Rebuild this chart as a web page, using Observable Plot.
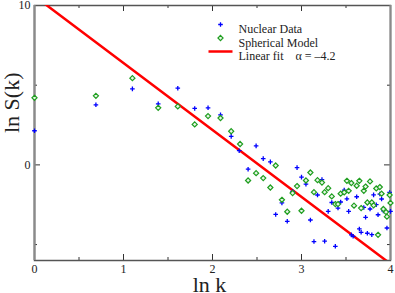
<!DOCTYPE html>
<html>
<head>
<meta charset="utf-8">
<script src="https://cdn.jsdelivr.net/npm/d3@7"></script>
<script src="https://cdn.jsdelivr.net/npm/@observablehq/plot@0.6"></script>
<style>
  html, body { margin: 0; padding: 0; background: #fff; }
</style>
</head>
<body>
<div id="chart"></div>
<script>
// ---- data ----
const nuclearX = [0.00, 0.69, 1.10, 1.39, 1.61, 1.80, 1.95, 2.09, 2.21, 2.30, 2.40, 2.49, 2.57, 2.65, 2.71, 2.78, 2.84, 2.90, 2.95, 3.00, 3.05, 3.10, 3.14, 3.18, 3.23, 3.26, 3.30, 3.34, 3.38, 3.41, 3.44, 3.48, 3.51, 3.53, 3.56, 3.58, 3.62, 3.65, 3.67, 3.70, 3.72, 3.74, 3.77, 3.79, 3.81, 3.84, 3.86, 3.88, 3.90, 3.92, 3.96, 3.99, 4.00];
const nuclearY = [2.14, 3.77, 4.77, 3.83, 4.81, 3.54, 3.58, 3.14, 1.79, 0.89, -0.27, 1.19, 0.39, 0.19, -3.11, -2.39, -3.54, -1.67, -0.17, -0.77, -1.21, -3.46, -4.81, -1.89, -0.92, -4.79, -2.92, -2.36, -5.11, -2.71, -2.33, -1.58, -2.13, -2.92, -4.39, -4.48, -2.00, -4.02, -4.23, -2.67, -3.29, -4.29, -2.77, -4.38, -1.88, -2.50, -3.13, -1.83, -2.14, -2.89, -3.96, -1.73, -2.92];

const sphericalX = [0.00, 0.69, 1.10, 1.39, 1.61, 1.80, 1.95, 2.09, 2.21, 2.31, 2.40, 2.49, 2.57, 2.65, 2.71, 2.78, 2.84, 2.90, 2.95, 3.00, 3.05, 3.10, 3.14, 3.18, 3.23, 3.26, 3.30, 3.34, 3.38, 3.41, 3.44, 3.48, 3.51, 3.53, 3.56, 3.59, 3.62, 3.65, 3.67, 3.70, 3.72, 3.74, 3.77, 3.79, 3.81, 3.84, 3.86, 3.88, 3.90, 3.92, 3.95, 3.96, 3.99, 4.00];
const sphericalY = [4.21, 4.33, 5.44, 3.58, 3.67, 2.54, 3.06, 2.94, 2.11, 1.31, -0.98, -0.52, -0.83, -1.42, -0.04, -2.19, -2.94, -1.77, -1.33, -2.88, -0.98, -0.48, -1.71, -0.96, -1.11, -1.71, -1.46, -1.98, -2.46, -2.46, -1.81, -1.73, -1.00, -1.63, -1.14, -2.56, -1.31, -1.00, -2.71, -1.63, -1.36, -2.36, -1.04, -2.36, -2.54, -1.48, -4.39, -1.39, -1.81, -2.77, -2.96, -3.25, -1.89, -2.39];

// linear fit, alpha = -4.2 (end points)
const fitX = [0, 4];
const fitY = [10.59, -6.21];

const xMajorTicks = [0, 1, 2, 3, 4];
const xMinorTicks = [0.5, 1.5, 2.5, 3.5];
const yLabelTicks = [0, 10];
const yMajorTicks = [0];
const yMinorTicks = [-5, 5];

const legendLabels = ["Nuclear Data", "Spherical Model", "Linear fit\u2003\u03b1 = \u20134.2"];

// ---- tables ----
const nuclear = nuclearX.map((x, i) => ({x, y: nuclearY[i]}));
const spherical = sphericalX.map((x, i) => ({x, y: sphericalY[i]}));
const fit = fitX.map((x, i) => ({x, y: fitY[i]}));

const W = 395, H = 293;
const mL = 34, mR = 5, mT = 5, mB = 33;
const innerW = W - mL - mR, innerH = H - mT - mB;
const serif = "Liberation Serif, Times New Roman, serif";
const tickColor = "#333";

const lineSymbol = {draw(ctx) { ctx.moveTo(-12, 0); ctx.lineTo(12, 0); }};

const chart = Plot.plot({
  width: W,
  height: H,
  marginLeft: mL,
  marginRight: mR,
  marginTop: mT,
  marginBottom: mB,
  style: {fontFamily: serif, background: "#fff", color: "#222"},
  x: {domain: [0, 4], axis: null},
  y: {domain: [-6, 10], axis: null},
  marks: [
    // inward ticks, all four sides
    Plot.tickX(xMajorTicks, {x: d => d, insetTop: innerH - 6, stroke: tickColor}),
    Plot.tickX(xMinorTicks, {x: d => d, insetTop: innerH - 3, stroke: tickColor}),
    Plot.tickX(xMajorTicks, {x: d => d, insetBottom: innerH - 6, stroke: tickColor}),
    Plot.tickX(xMinorTicks, {x: d => d, insetBottom: innerH - 3, stroke: tickColor}),
    Plot.tickY(yMajorTicks, {y: d => d, insetRight: innerW - 6, stroke: tickColor}),
    Plot.tickY(yMinorTicks, {y: d => d, insetRight: innerW - 3, stroke: tickColor}),
    Plot.tickY(yMajorTicks, {y: d => d, insetLeft: innerW - 6, stroke: tickColor}),
    Plot.tickY(yMinorTicks, {y: d => d, insetLeft: innerW - 3, stroke: tickColor}),
    // tick labels
    Plot.axisX({ticks: xMajorTicks, tickSize: 0, tickPadding: 4, tickFormat: d => String(d), fontSize: 12, label: null, fill: "#222"}),
    Plot.axisY({ticks: yLabelTicks, tickSize: 0, tickPadding: 4, tickFormat: d => String(d), fontSize: 12, label: null, fill: "#222"}),
    // frame
    Plot.frame({stroke: "#555", strokeWidth: 1.5}),
    Plot.ruleX([0], {stroke: "#8a8a8a", strokeWidth: 2.2}),
    Plot.ruleX([4], {stroke: "#8a8a8a", strokeWidth: 2}),
    // fit line
    Plot.line(fit, {x: "x", y: "y", stroke: "#ff0000", strokeWidth: 2.5, clip: true}),
    // data
    Plot.dot(nuclear, {x: "x", y: "y", symbol: "plus", r: 1.6, stroke: "#0000ff", strokeWidth: 1.3, fill: "none"}),
    Plot.dot(spherical, {x: "x", y: "y", symbol: "diamond2", r: 2.3, stroke: "#1f9e1f", strokeWidth: 1.2, fill: "#e8f6e8"}),
    // legend
    Plot.dot([legendLabels[0]], {frameAnchor: "top-left", dx: 186, dy: 19, symbol: "plus", r: 1.6, stroke: "#0000ff", strokeWidth: 1.3, fill: "none"}),
    Plot.dot([legendLabels[1]], {frameAnchor: "top-left", dx: 186, dy: 32.5, symbol: "diamond2", r: 2.3, stroke: "#1f9e1f", strokeWidth: 1.2, fill: "#e8f6e8"}),
    Plot.dot([legendLabels[2]], {frameAnchor: "top-left", dx: 186, dy: 46, symbol: lineSymbol, stroke: "#ff0000", strokeWidth: 2.5, fill: "none"}),
    Plot.text([legendLabels[0]], {frameAnchor: "top-left", dx: 204, dy: 19, textAnchor: "start", fontSize: 12, fill: "#222"}),
    Plot.text([legendLabels[1]], {frameAnchor: "top-left", dx: 204, dy: 32.5, textAnchor: "start", fontSize: 12, fill: "#222"}),
    Plot.text([legendLabels[2]], {frameAnchor: "top-left", dx: 204, dy: 46, textAnchor: "start", fontSize: 12, fill: "#222"}),
    // axis titles
    Plot.text(["ln k"], {frameAnchor: "bottom", dx: -3, dy: 31, fontSize: 22, fill: "#222"}),
    Plot.text(["ln S(k)"], {frameAnchor: "left", dx: -22.5, dy: 0, rotate: -90, fontSize: 22, fill: "#222"})
  ]
});

document.getElementById("chart").appendChild(chart);
</script>
</body>
</html>
